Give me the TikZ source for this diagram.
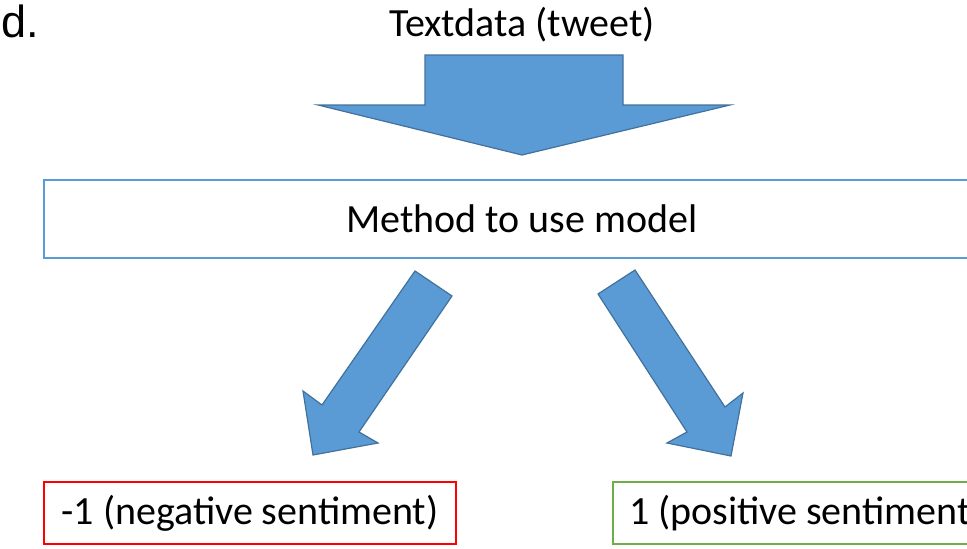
\documentclass[tikz,border=0pt]{standalone}
\usepackage{fontspec}
\setmainfont{Carlito}
\newfontfamily\tagfont{Liberation Sans}
\definecolor{arrowblue}{HTML}{5B9BD5}
\definecolor{arrowedge}{HTML}{41719C}
\definecolor{negred}{HTML}{FF0000}
\definecolor{posgreen}{HTML}{70AD47}

\tikzset{
  txt/.style={font=\fontsize{40}{48}\selectfont, inner sep=0pt},
  resultbox/.style={txt, draw, line width=2.5pt, minimum width=412, minimum height=62},
  blockarrow/.style={fill=arrowblue, draw=arrowedge, line width=1.2pt, line join=miter}
}

\begin{document}
\begin{tikzpicture}[x=1pt,y=-1pt]
  \useasboundingbox (0,0) rectangle (967,549);
  \node[inner sep=0pt, font=\tagfont\fontsize{45}{54}\selectfont, anchor=base west] (tag) at (1,37) {d.};
  \node[txt, anchor=base] (input) at (522,36) {Textdata (tweet)};
  \node[resultbox, draw=arrowblue, minimum width=956, minimum height=78] (method) at (522,219) {Method to use model};
  \node[resultbox, draw=negred] (neg) at (250,513) {-1 (negative sentiment)};
  \node[resultbox, draw=posgreen, minimum width=386] (pos) at (806,513) {1 (positive sentiment)};
  % block arrows
  \draw[blockarrow] (425,55) -- (623,55) -- (623,105) -- (730,105) -- (522,155) -- (318,105) -- (425,105) -- cycle;
  \draw[blockarrow] (415,271) -- (452,296) -- (359,432) -- (378,443) -- (313,455) -- (303,391) -- (322,405) -- cycle;
  \draw[blockarrow] (635,270) -- (598,294) -- (687,432) -- (667,443) -- (731,456) -- (743,393) -- (725,407) -- cycle;
\end{tikzpicture}
\end{document}
